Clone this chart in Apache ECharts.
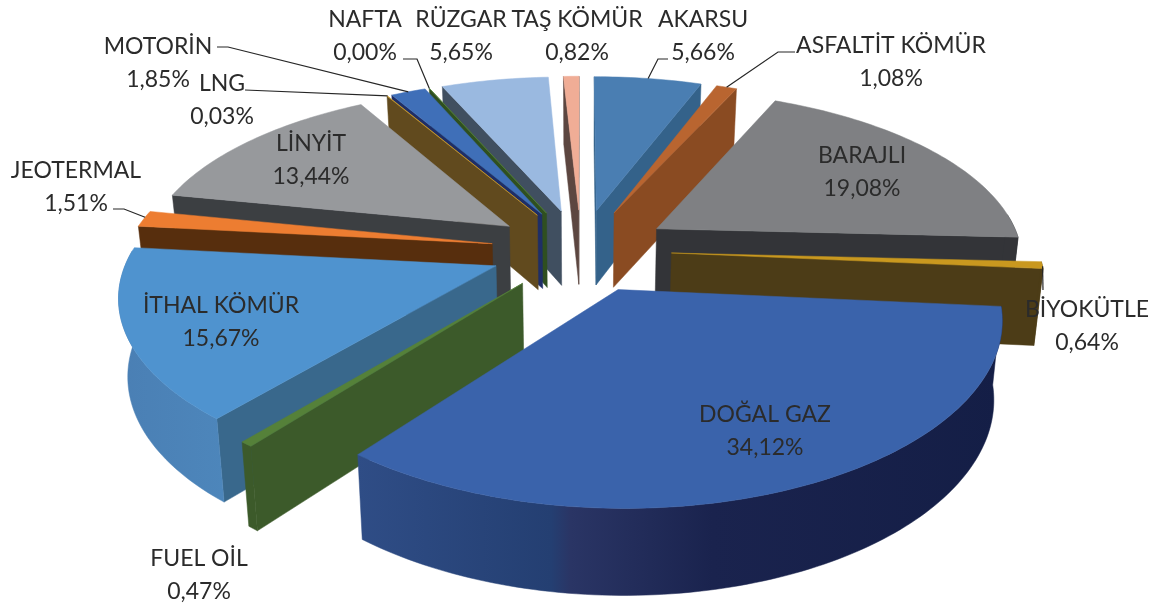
<!DOCTYPE html>
<html>
<head>
<meta charset="utf-8">
<title>Kaynak dağılımı</title>
<script src="https://cdn.jsdelivr.net/npm/echarts@6/dist/echarts.min.js"></script>
<style>
  html, body { margin: 0; padding: 0; background: #fff; }
  #chart { width: 1156px; height: 604px; }
</style>
</head>
<body>
<div id="chart"></div>
<script>
// data, clockwise from 12 o'clock
const categories = ['AKARSU', 'ASFALTİT KÖMÜR', 'BARAJLI', 'BİYOKÜTLE', 'DOĞAL GAZ', 'FUEL OİL', 'İTHAL KÖMÜR',
  'JEOTERMAL', 'LİNYİT', 'LNG', 'MOTORİN', 'NAFTA', 'RÜZGAR', 'TAŞ KÖMÜR'];
const shares = [5.66, 1.08, 19.08, 0.64, 34.12, 0.47, 15.67, 1.51, 13.44, 0.03, 1.85, 0.00, 5.65, 0.82];

// colours
const topColors = ['#4a7eb2', '#b96530', '#7f8083', '#c9981f', '#3a63ab', '#558139', '#4f93cf',
  '#ed7d31', '#97999c', '#d9a62e', '#3f6fb8', '#5a8a3a', '#9ab9e0', '#f0ad96'];
const wallColors = ['#34628a', '#8a4b22', '#333438', '#4c3c17', '#2f4d88', '#3c5a2a', '#39688c',
  '#572e0d', '#3c3f42', '#614a1e', '#1f2e66', '#2f4f20', '#404f60', '#5c4640'];
const dogalGazWall = [[0, '#2f4d86'], [0.3, '#243f72'], [0.33, '#2a3565'], [0.55, '#1a234e'], [1, '#141e46']];
const ithalWall = [[0, '#4a7fb4'], [1, '#4d86bb']];

// label centres + leader elbows, [x, y] in px
const labelPos = [[703, 36], [891, 62], [862, 172], [1087, 326], [765, 431], [199, 575], [221, 322],
  [76, 187], [311, 160], [222, 100], [158, 63], [365, 36], [461, 36], [577, 36]];
const leaders = [
  [[668, 59], [658, 59]], [[795, 52], [778, 52]], null, [[1043, 290]], null, null, null,
  [[113, 209], [124, 209]], null, [[245, 90]], [[217, 47], [228, 47]], [[403, 59], [417, 59]], null, null
];

// projection of the exploded pie
const cx = 581, cy = 250, R = 366, explode = 0.247;
const perspBack = 0.165, perspFront = 0.148, perspY = 0.165, tilt = 168, depth = 76, shrink = 0.98;

function project(u, v, down) {
  const s = 1 / (1 - perspY * v);
  let x = R * u / (1 - (v < 0 ? perspBack : perspFront) * v), y = tilt * v * s;
  if (down) {
    x *= shrink;
    y += depth * Math.pow(s, 0.6);
  }
  return [cx + x, cy + y];
}

const total = shares.reduce((a, b) => a + b, 0);
let acc = 0;
const slices = shares.map(function (v) {
  const a0 = acc / total * Math.PI * 2;
  acc += v;
  const a1 = acc / total * Math.PI * 2;
  return { a0: a0, a1: a1, mid: (a0 + a1) / 2 };
});

function sliceGeom(i) {
  const sl = slices[i];
  const ou = explode * Math.sin(sl.mid), ov = -explode * Math.cos(sl.mid);
  const n = Math.max(1, Math.ceil((sl.a1 - sl.a0) / 0.02));
  const arc = [];
  for (let k = 0; k <= n; k++) {
    const a = sl.a0 + (sl.a1 - sl.a0) * k / n;
    arc.push([ou + Math.sin(a), ov - Math.cos(a)]);
  }
  return { apex: [ou, ov], arc: arc };
}

function poly(points, fill) {
  return { type: 'polygon', shape: { points: points }, style: { fill: fill, stroke: fill, lineWidth: 0.5 } };
}

function wallQuad(a, b, fill) {
  return poly([project(a[0], a[1]), project(b[0], b[1]), project(b[0], b[1], true), project(a[0], a[1], true)], fill);
}

function renderSlice(params, api) {
  const i = api.value(0);
  const g = sliceGeom(i);
  const children = [];
  const first = g.arc[0], last = g.arc[g.arc.length - 1];
  // radial walls, only the ones facing the viewer
  if (project(first[0], first[1])[0] < project(g.apex[0], g.apex[1])[0]) {
    children.push(wallQuad(g.apex, first, wallColors[i]));
  }
  if (project(g.apex[0], g.apex[1])[0] < project(last[0], last[1])[0]) {
    children.push(wallQuad(last, g.apex, wallColors[i]));
  }
  // outer rim wall
  const front = g.arc.filter(function (p, k) {
    const a = slices[i].a0 + (slices[i].a1 - slices[i].a0) * k / (g.arc.length - 1);
    return Math.cos(a) < 0.1;
  });
  if (front.length > 1) {
    const rim = front.map(p => project(p[0], p[1]))
      .concat(front.slice().reverse().map(p => project(p[0], p[1], true)));
    let fill = wallColors[i];
    const stops = i === 4 ? dogalGazWall : i === 6 ? ithalWall : null;
    if (stops) {
      fill = new echarts.graphic.LinearGradient(0, 0, 1, 0,
        stops.map(s => ({ offset: s[0], color: s[1] })));
    }
    children.push(poly(rim, fill));
  }
  const top = [project(g.apex[0], g.apex[1])].concat(g.arc.map(p => project(p[0], p[1])));
  children.push(poly(top, topColors[i]));
  return { type: 'group', children: children };
}

function renderLabel(params, api) {
  const i = api.value(0);
  const pos = labelPos[i];
  const children = [];
  if (leaders[i]) {
    const g = sliceGeom(i);
    const m = g.arc[Math.floor(g.arc.length / 2)];
    children.push({
      type: 'polyline',
      shape: { points: leaders[i].concat([project(m[0], m[1])]) },
      style: { fill: null, stroke: '#262626', lineWidth: 1.2 }
    });
  }
  children.push({
    type: 'text',
    style: {
      text: categories[i] + '\n' + shares[i].toFixed(2).replace('.', ',') + '%',
      x: pos[0], y: pos[1],
      align: 'center', verticalAlign: 'middle',
      fontFamily: 'Lato', fontSize: 23, lineHeight: 33, fill: '#2b2b2b'
    }
  });
  return { type: 'group', children: children };
}

// back to front
const drawOrder = categories.map((c, i) => i)
  .sort((a, b) => Math.cos(slices[b].mid) - Math.cos(slices[a].mid));

const chart = echarts.init(document.getElementById('chart'), null, { renderer: 'canvas' });
chart.setOption({
  animation: false,
  backgroundColor: '#fff',
  series: [
    { type: 'custom', coordinateSystem: 'none', renderItem: renderSlice, data: drawOrder.map(i => [i]), silent: true, z: 2 },
    { type: 'custom', coordinateSystem: 'none', renderItem: renderLabel, data: categories.map((c, i) => [i]), silent: true, z: 3 }
  ]
});
</script>
</body>
</html>
